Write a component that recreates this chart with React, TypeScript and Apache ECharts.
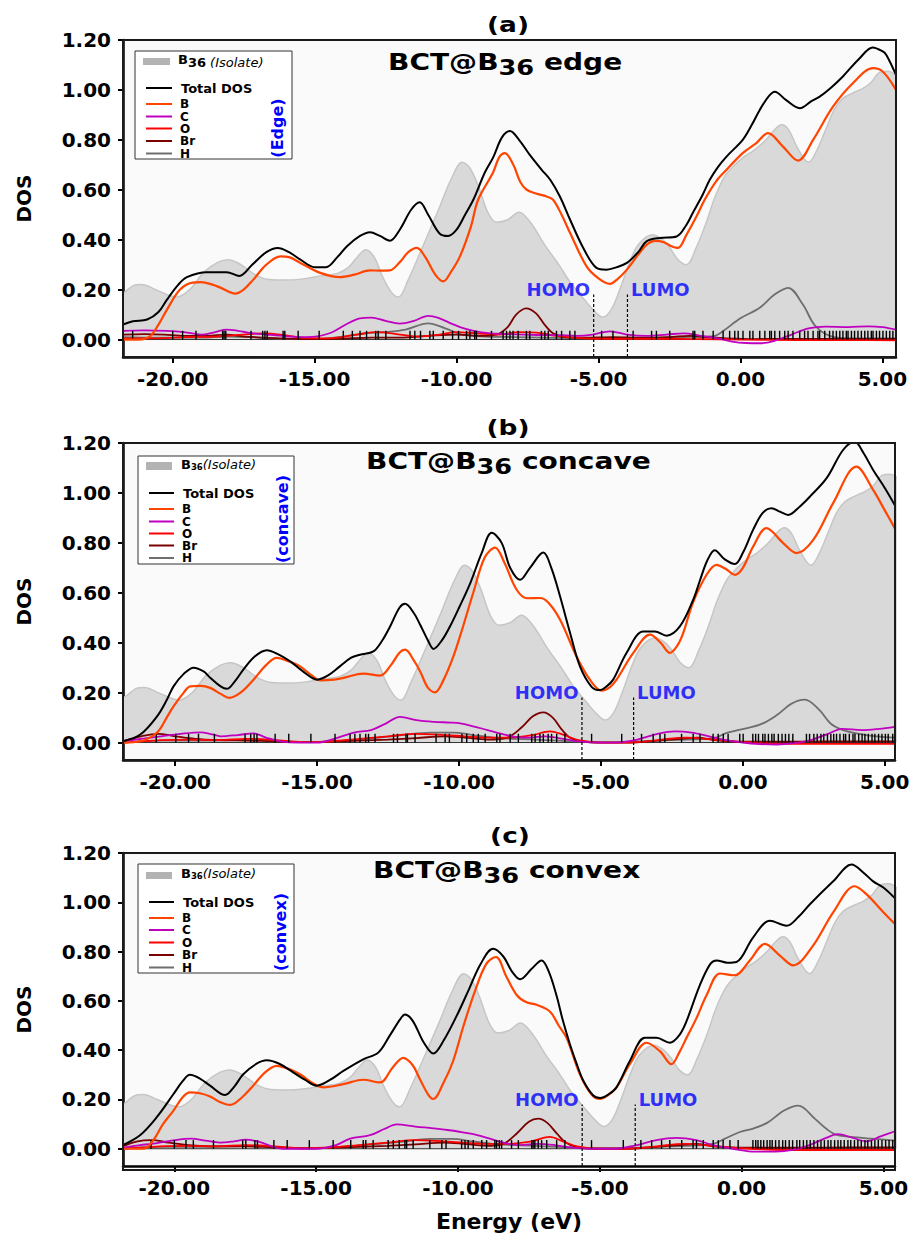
import React, { useEffect, useRef } from 'react';
import * as echarts from 'echarts';

const FONT = '"DejaVu Sans", "Noto Sans", sans-serif';

const X_TICKS = [-20, -15, -10, -5, 0, 5];
const Y_TICKS = [0, 0.2, 0.4, 0.6, 0.8, 1.0, 1.2];
const Y_MIN = -0.07;
const Y_MAX = 1.2;
const STICK_H = 0.035;
const GAP_TOP = 0.18;
const GAP_LABEL_Y = 0.2;

// isolated B36 DOS (grey area), same in all panels
const ISO = [[-22.0,0.17],[-21.75,0.185],[-21.4,0.215],[-21.1,0.22],[-20.6,0.2],[-20.2,0.18],[-19.85,0.17],[-19.4,0.2],[-18.9,0.27],[-18.4,0.31],[-18.05,0.32],[-17.6,0.3],[-17.1,0.26],[-16.6,0.24],[-16.0,0.238],[-15.4,0.243],[-14.8,0.255],[-14.2,0.265],[-13.8,0.29],[-13.5,0.33],[-13.2,0.36],[-12.9,0.33],[-12.6,0.25],[-12.3,0.19],[-12.05,0.17],[-11.7,0.24],[-11.2,0.37],[-10.6,0.53],[-10.2,0.64],[-9.8,0.71],[-9.55,0.69],[-9.25,0.62],[-8.9,0.51],[-8.6,0.47],[-8.2,0.48],[-7.8,0.51],[-7.4,0.47],[-6.9,0.38],[-6.4,0.3],[-6.0,0.23],[-5.5,0.16],[-5.15,0.115],[-4.85,0.09],[-4.55,0.12],[-4.25,0.2],[-3.9,0.31],[-3.6,0.38],[-3.1,0.42],[-2.8,0.405],[-2.5,0.37],[-2.2,0.32],[-1.9,0.3],[-1.55,0.37],[-1.2,0.47],[-0.9,0.57],[-0.55,0.655],[-0.2,0.7],[0.1,0.73],[0.5,0.76],[0.9,0.8],[1.2,0.84],[1.45,0.86],[1.7,0.84],[2.0,0.77],[2.4,0.71],[2.7,0.76],[3.0,0.84],[3.3,0.92],[3.6,0.965],[4.0,0.99],[4.3,1.005],[4.6,1.03],[4.9,1.07],[5.2,1.075],[5.5,1.055]];

// ---- panel (a) edge ----
const TOT_A = [[-21.75,0.06],[-21.4,0.073],[-20.9,0.08],[-20.5,0.11],[-20.2,0.16],[-19.8,0.22],[-19.5,0.25],[-18.8,0.27],[-18.1,0.27],[-17.65,0.255],[-17.2,0.3],[-16.7,0.35],[-16.3,0.367],[-15.9,0.35],[-15.5,0.32],[-15.0,0.29],[-14.6,0.29],[-14.2,0.33],[-13.85,0.375],[-13.4,0.415],[-13.05,0.43],[-12.7,0.415],[-12.35,0.396],[-12.0,0.44],[-11.6,0.52],[-11.3,0.55],[-11.0,0.5],[-10.6,0.425],[-10.3,0.415],[-10.0,0.44],[-9.7,0.5],[-9.41,0.56],[-9.0,0.67],[-8.71,0.73],[-8.4,0.81],[-8.12,0.835],[-7.8,0.8],[-7.42,0.74],[-7.0,0.68],[-6.7,0.64],[-6.36,0.573],[-6.0,0.48],[-5.55,0.37],[-5.07,0.287],[-4.72,0.28],[-4.35,0.29],[-4.0,0.307],[-3.6,0.35],[-3.31,0.393],[-2.84,0.407],[-2.25,0.413],[-1.9,0.46],[-1.68,0.507],[-1.33,0.58],[-1.08,0.64],[-0.8,0.69],[-0.49,0.733],[0.08,0.8],[0.4,0.86],[0.68,0.92],[1.0,0.975],[1.21,0.993],[1.6,0.96],[2.09,0.927],[2.5,0.955],[2.79,0.973],[3.2,1.01],[3.6,1.053],[4.2,1.127],[4.66,1.17],[5.0,1.155],[5.14,1.14],[5.48,1.06]];
const B_A = [[-21.75,0.0],[-21.2,0.0],[-20.8,0.013],[-20.5,0.06],[-20.2,0.12],[-19.74,0.2],[-19.3,0.228],[-19.0,0.23],[-18.6,0.22],[-18.3,0.207],[-17.8,0.184],[-17.5,0.2],[-17.16,0.24],[-16.7,0.3],[-16.2,0.333],[-15.9,0.33],[-15.5,0.307],[-14.8,0.267],[-14.1,0.25],[-13.6,0.26],[-13.05,0.277],[-12.7,0.276],[-12.35,0.277],[-12.0,0.31],[-11.7,0.35],[-11.4,0.367],[-11.1,0.33],[-10.75,0.26],[-10.47,0.233],[-10.2,0.27],[-9.88,0.333],[-9.5,0.45],[-9.24,0.56],[-8.71,0.67],[-8.5,0.73],[-8.3,0.747],[-8.0,0.7],[-7.75,0.63],[-7.53,0.6],[-7.2,0.585],[-6.83,0.573],[-6.6,0.56],[-6.3,0.5],[-6.0,0.427],[-5.42,0.293],[-5.0,0.245],[-4.6,0.223],[-4.3,0.245],[-4.0,0.28],[-3.6,0.34],[-3.3,0.38],[-3.0,0.395],[-2.7,0.39],[-2.45,0.375],[-2.2,0.367],[-1.9,0.42],[-1.55,0.493],[-1.26,0.56],[-0.85,0.635],[-0.49,0.68],[0.08,0.747],[0.56,0.787],[0.97,0.827],[1.5,0.773],[2.03,0.717],[2.56,0.8],[3.26,0.933],[3.96,1.027],[4.67,1.087],[5.02,1.073],[5.48,1.0]];
const C_A = [[-21.75,0.035],[-21.0,0.037],[-20.2,0.035],[-19.6,0.03],[-19.0,0.02],[-18.5,0.03],[-18.1,0.04],[-17.7,0.035],[-17.3,0.027],[-16.7,0.02],[-16.0,0.013],[-15.3,0.01],[-14.9,0.013],[-14.4,0.028],[-13.9,0.06],[-13.4,0.085],[-13.0,0.088],[-12.5,0.075],[-12.0,0.064],[-11.5,0.075],[-11.0,0.095],[-10.6,0.085],[-10.2,0.065],[-9.88,0.05],[-9.4,0.035],[-8.8,0.025],[-8.2,0.022],[-7.6,0.02],[-7.0,0.018],[-6.4,0.018],[-5.8,0.015],[-5.2,0.02],[-4.6,0.033],[-4.0,0.02],[-3.3,0.015],[-2.6,0.02],[-2.0,0.025],[-1.4,0.015],[-0.8,0.005],[-0.3,-0.008],[0.2,-0.014],[0.7,-0.015],[1.2,-0.005],[1.8,0.02],[2.4,0.045],[3.0,0.052],[3.8,0.05],[4.5,0.053],[5.0,0.05],[5.48,0.04]];
const O_A = [[-21.75,0.005],[-20.5,0.005],[-19.5,0.01],[-18.5,0.012],[-17.5,0.02],[-16.8,0.025],[-16.2,0.02],[-15.5,0.008],[-14.5,0.005],[-13.5,0.02],[-12.8,0.03],[-12.0,0.02],[-11.3,0.012],[-10.6,0.02],[-10.0,0.03],[-9.3,0.025],[-8.5,0.02],[-7.8,0.03],[-7.2,0.028],[-6.5,0.015],[-5.5,0.005],[-4.5,0.003],[-3.0,0.003],[-1.5,0.002],[0.0,0.0],[2.0,-0.002],[4.0,-0.002],[5.48,-0.003]];
const BR_A = [[-21.75,0.02],[-21.0,0.022],[-20.3,0.02],[-19.6,0.015],[-18.8,0.015],[-18.1,0.02],[-17.5,0.012],[-16.8,0.008],[-16.0,0.004],[-15.0,0.002],[-14.0,0.004],[-13.0,0.008],[-12.0,0.008],[-11.0,0.015],[-10.0,0.02],[-9.2,0.015],[-8.6,0.02],[-8.2,0.05],[-7.9,0.1],[-7.55,0.125],[-7.2,0.105],[-6.9,0.06],[-6.6,0.025],[-6.2,0.01],[-5.5,0.008],[-4.5,0.01],[-3.5,0.008],[-2.5,0.01],[-1.8,0.015],[-1.2,0.01],[-0.5,0.005],[0.5,0.002],[2.0,0.003],[3.5,0.003],[5.48,0.003]];
const H_A = [[-21.75,0.01],[-20.5,0.008],[-19.0,0.008],[-18.0,0.012],[-17.0,0.008],[-16.0,0.003],[-15.0,0.002],[-14.0,0.012],[-13.2,0.025],[-12.5,0.03],[-11.8,0.04],[-11.0,0.065],[-10.4,0.045],[-9.8,0.02],[-9.0,0.012],[-8.0,0.01],[-7.0,0.008],[-6.0,0.006],[-5.0,0.005],[-4.0,0.006],[-3.0,0.008],[-2.0,0.01],[-1.2,0.012],[-0.9,0.015],[-0.62,0.033],[0.0,0.085],[0.68,0.127],[1.2,0.18],[1.68,0.207],[2.2,0.14],[2.65,0.053],[3.3,0.01],[4.0,0.005],[5.48,0.005]];
const STICKS_A = [-21.41,-20.0,-19.65,-19.18,-18.24,-18.19,-18.13,-17.24,-16.83,-16.75,-16.67,-16.11,-16.05,-15.58,-14.84,-13.99,-13.67,-13.4,-13.17,-12.85,-12.76,-12.49,-11.64,-11.47,-11.27,-10.94,-10.82,-10.47,-10.14,-9.93,-9.65,-9.53,-9.36,-9.3,-8.77,-8.36,-8.24,-8.12,-8.01,-7.83,-7.54,-7.42,-7.01,-6.89,-6.77,-6.48,-6.3,-6.01,-5.83,-4.89,-4.49,-3.78,-3.13,-2.96,-2.49,-1.67,-1.61,-1.32,-0.96,-0.61,-0.38,-0.2,-0.08,0.09,0.33,0.44,0.68,0.86,1.03,1.09,1.21,1.38,1.56,1.68,1.85,2.09,2.26,2.38,2.56,2.73,2.79,2.97,3.14,3.26,3.38,3.5,3.61,3.73,3.79,3.91,4.02,4.14,4.26,4.38,4.49,4.61,4.67,4.79,4.9,5.02,5.14,5.26,5.37];

// ---- panel (b) concave ----
const TOT_B = [[-21.84,0.005],[-21.23,0.032],[-20.64,0.105],[-20.3,0.17],[-20.06,0.225],[-19.7,0.275],[-19.35,0.3],[-19.0,0.285],[-18.77,0.26],[-18.4,0.225],[-18.18,0.215],[-17.9,0.245],[-17.6,0.292],[-17.2,0.345],[-16.77,0.37],[-16.4,0.355],[-15.95,0.325],[-15.5,0.285],[-15.0,0.252],[-14.6,0.27],[-14.2,0.305],[-13.8,0.34],[-13.49,0.352],[-13.02,0.365],[-12.7,0.41],[-12.43,0.465],[-12.1,0.54],[-11.9,0.556],[-11.6,0.52],[-11.37,0.472],[-11.1,0.41],[-10.9,0.375],[-10.6,0.41],[-10.32,0.465],[-10.0,0.54],[-9.6,0.64],[-9.2,0.76],[-8.85,0.84],[-8.5,0.8],[-8.2,0.7],[-7.85,0.652],[-7.5,0.7],[-7.03,0.761],[-6.75,0.7],[-6.44,0.585],[-6.09,0.44],[-5.74,0.305],[-5.33,0.223],[-5.04,0.21],[-4.8,0.225],[-4.57,0.252],[-4.1,0.359],[-3.51,0.445],[-3.1,0.445],[-2.69,0.428],[-2.22,0.465],[-1.75,0.572],[-1.51,0.65],[-1.25,0.73],[-0.99,0.77],[-0.65,0.735],[-0.28,0.715],[0.0,0.76],[0.36,0.852],[0.7,0.92],[1.01,0.939],[1.3,0.925],[1.6,0.912],[2.0,0.945],[2.36,0.985],[2.95,1.059],[3.53,1.172],[3.94,1.205],[4.25,1.16],[4.59,1.092],[5.0,1.02],[5.35,0.952]];
const B_B = [[-21.84,0.0],[-21.23,0.005],[-20.64,0.04],[-20.3,0.1],[-20.06,0.145],[-19.7,0.2],[-19.47,0.225],[-19.1,0.227],[-18.77,0.219],[-18.4,0.195],[-18.1,0.179],[-17.7,0.2],[-17.24,0.252],[-16.8,0.31],[-16.42,0.339],[-16.0,0.325],[-15.6,0.305],[-15.2,0.27],[-14.89,0.249],[-14.4,0.252],[-14.07,0.259],[-13.37,0.276],[-12.78,0.268],[-12.4,0.31],[-12.1,0.36],[-11.9,0.372],[-11.6,0.33],[-11.37,0.285],[-11.1,0.22],[-10.85,0.201],[-10.55,0.25],[-10.2,0.345],[-9.9,0.45],[-9.5,0.6],[-9.1,0.74],[-8.73,0.781],[-8.4,0.72],[-7.97,0.612],[-7.6,0.578],[-7.15,0.579],[-6.85,0.56],[-6.44,0.492],[-5.86,0.345],[-5.39,0.252],[-4.98,0.208],[-4.7,0.22],[-4.45,0.252],[-3.86,0.359],[-3.27,0.432],[-2.9,0.4],[-2.57,0.359],[-2.3,0.39],[-2.1,0.439],[-1.76,0.56],[-1.28,0.672],[-0.93,0.712],[-0.6,0.695],[-0.28,0.672],[0.0,0.7],[0.36,0.785],[0.83,0.859],[1.42,0.799],[1.89,0.759],[2.48,0.812],[3.18,0.959],[4.0,1.105],[4.59,1.012],[5.0,0.93],[5.35,0.859]];
const C_B = [[-21.84,0.005],[-21.2,0.015],[-20.5,0.025],[-19.8,0.035],[-19.1,0.041],[-18.7,0.033],[-18.4,0.025],[-17.8,0.03],[-17.24,0.037],[-16.8,0.02],[-16.3,0.005],[-15.6,0.0],[-15.0,0.0],[-14.4,0.015],[-13.7,0.04],[-13.1,0.05],[-12.6,0.075],[-12.08,0.103],[-11.5,0.09],[-10.9,0.083],[-10.3,0.08],[-9.96,0.077],[-9.5,0.065],[-9.0,0.05],[-8.5,0.035],[-8.0,0.022],[-7.5,0.02],[-7.0,0.025],[-6.5,0.018],[-6.0,0.008],[-5.5,0.002],[-4.5,0.0],[-3.8,0.01],[-3.0,0.035],[-2.4,0.045],[-1.8,0.04],[-1.2,0.025],[-0.6,0.01],[0.0,0.0],[0.6,-0.006],[1.2,-0.008],[1.8,-0.002],[2.4,0.01],[3.0,0.035],[3.5,0.055],[4.2,0.05],[4.8,0.055],[5.35,0.063]];
const O_B = [[-21.84,0.0],[-20.5,0.01],[-19.5,0.012],[-18.5,0.01],[-17.5,0.015],[-16.5,0.01],[-15.5,0.002],[-14.5,0.005],[-13.5,0.015],[-12.5,0.025],[-11.5,0.035],[-10.5,0.03],[-9.8,0.025],[-9.0,0.02],[-8.2,0.02],[-7.4,0.03],[-6.8,0.045],[-6.3,0.03],[-5.8,0.01],[-5.0,0.0],[-4.0,0.0],[-3.0,0.01],[-2.0,0.02],[-1.0,0.012],[0.0,0.002],[1.5,-0.005],[3.0,-0.005],[5.35,-0.005]];
const BR_B = [[-21.84,0.005],[-21.2,0.025],[-20.6,0.035],[-20.0,0.025],[-19.3,0.015],[-18.5,0.01],[-17.5,0.008],[-16.5,0.005],[-15.5,0.002],[-14.5,0.004],[-13.5,0.008],[-12.5,0.012],[-11.5,0.018],[-10.5,0.025],[-9.8,0.02],[-9.0,0.012],[-8.3,0.02],[-7.8,0.06],[-7.4,0.105],[-7.03,0.121],[-6.7,0.1],[-6.4,0.055],[-6.1,0.02],[-5.7,0.005],[-5.0,0.0],[-4.0,0.0],[-3.0,0.008],[-2.2,0.015],[-1.6,0.02],[-1.0,0.01],[0.0,0.004],[2.0,0.004],[4.0,0.005],[5.35,0.005]];
const H_B = [[-21.84,0.0],[-20.5,0.008],[-19.0,0.008],[-18.0,0.01],[-17.0,0.012],[-16.0,0.004],[-15.0,0.002],[-14.0,0.008],[-13.0,0.018],[-12.0,0.03],[-11.0,0.04],[-10.2,0.04],[-9.5,0.03],[-8.8,0.02],[-8.0,0.015],[-7.0,0.01],[-6.0,0.005],[-5.0,0.002],[-4.0,0.003],[-3.0,0.008],[-2.0,0.012],[-1.0,0.018],[-0.57,0.039],[0.6,0.072],[1.2,0.11],[1.7,0.155],[2.18,0.172],[2.7,0.13],[3.1,0.075],[3.53,0.05],[4.1,0.035],[4.7,0.025],[5.35,0.02]];
const STICKS_B = [-20.67,-19.98,-19.53,-19.18,-18.62,-17.54,-17.34,-17.22,-17.12,-16.48,-16.0,-15.22,-14.37,-13.84,-13.67,-13.49,-13.29,-13.19,-12.96,-12.31,-12.17,-11.87,-11.82,-11.55,-10.81,-10.49,-10.34,-9.9,-9.73,-9.5,-9.32,-9.08,-8.67,-8.56,-8.2,-7.91,-7.44,-7.32,-7.15,-7.03,-6.86,-6.74,-6.56,-6.27,-5.33,-4.27,-3.57,-3.16,-2.92,-2.75,-2.16,-1.75,-1.51,-1.05,-0.87,-0.69,-0.52,-0.11,0.01,0.35,0.45,0.55,0.7,0.78,0.9,1.02,1.1,1.25,1.38,1.5,1.62,1.76,2.24,2.35,2.5,2.62,2.75,2.85,2.98,3.1,3.2,3.3,3.42,3.55,3.62,3.75,3.88,3.95,4.08,4.2,4.3,4.42,4.55,4.65,4.78,4.9,5.02,5.12,5.28];

// ---- panel (c) convex ----
const TOT_C = [[-21.82,0.015],[-21.21,0.055],[-20.62,0.128],[-20.03,0.222],[-19.7,0.275],[-19.45,0.3],[-19.1,0.285],[-18.74,0.256],[-18.21,0.218],[-17.9,0.25],[-17.57,0.302],[-17.1,0.345],[-16.74,0.359],[-16.3,0.345],[-15.8,0.309],[-15.4,0.28],[-14.98,0.256],[-14.5,0.28],[-14.04,0.316],[-13.34,0.363],[-12.81,0.39],[-12.4,0.46],[-12.04,0.525],[-11.87,0.545],[-11.6,0.52],[-11.2,0.43],[-10.87,0.386],[-10.5,0.44],[-10.0,0.55],[-9.6,0.65],[-9.2,0.75],[-8.76,0.811],[-8.4,0.78],[-8.1,0.72],[-7.81,0.688],[-7.4,0.73],[-7.05,0.764],[-6.8,0.72],[-6.52,0.62],[-6.3,0.52],[-6.05,0.423],[-5.8,0.34],[-5.58,0.276],[-5.23,0.216],[-4.99,0.206],[-4.7,0.22],[-4.41,0.249],[-3.94,0.356],[-3.41,0.45],[-3.0,0.45],[-2.53,0.43],[-2.2,0.46],[-1.94,0.518],[-1.47,0.664],[-1.1,0.75],[-0.88,0.764],[-0.5,0.755],[-0.18,0.758],[0.41,0.858],[1.0,0.925],[1.59,0.905],[2.0,0.94],[2.41,0.992],[3.23,1.085],[3.88,1.153],[4.3,1.12],[4.64,1.085],[5.0,1.06],[5.41,1.016]];
const B_C = [[-21.82,0.0],[-21.09,0.0],[-20.74,0.035],[-20.4,0.1],[-20.03,0.155],[-19.7,0.21],[-19.45,0.229],[-19.1,0.225],[-18.74,0.212],[-18.4,0.19],[-18.03,0.178],[-17.6,0.21],[-17.22,0.256],[-16.8,0.31],[-16.39,0.336],[-16.0,0.325],[-15.57,0.302],[-15.1,0.265],[-14.75,0.249],[-14.04,0.262],[-13.34,0.28],[-12.75,0.269],[-12.3,0.33],[-11.93,0.369],[-11.6,0.34],[-11.34,0.282],[-11.05,0.22],[-10.87,0.202],[-10.5,0.27],[-10.17,0.356],[-9.8,0.5],[-9.4,0.64],[-9.0,0.75],[-8.66,0.778],[-8.3,0.7],[-7.93,0.624],[-7.6,0.595],[-7.23,0.584],[-6.76,0.557],[-6.45,0.5],[-6.17,0.45],[-5.7,0.302],[-5.29,0.22],[-4.99,0.202],[-4.7,0.218],[-4.41,0.249],[-3.94,0.343],[-3.35,0.43],[-2.88,0.396],[-2.47,0.343],[-2.2,0.39],[-1.94,0.45],[-1.59,0.53],[-1.23,0.624],[-0.76,0.711],[-0.24,0.704],[0.29,0.764],[0.82,0.831],[1.35,0.784],[1.82,0.744],[2.52,0.824],[3.23,0.959],[3.99,1.065],[4.41,1.032],[5.0,0.96],[5.41,0.912]];
const C_C = [[-21.82,0.005],[-21.2,0.015],[-20.8,0.02],[-20.1,0.033],[-19.4,0.041],[-18.9,0.033],[-18.4,0.025],[-17.9,0.03],[-17.5,0.037],[-17.0,0.028],[-16.2,0.0],[-15.0,0.0],[-14.3,0.015],[-13.8,0.041],[-13.1,0.055],[-12.6,0.08],[-12.16,0.099],[-11.5,0.09],[-10.87,0.083],[-10.3,0.075],[-10.0,0.07],[-9.5,0.06],[-9.0,0.045],[-8.4,0.025],[-7.8,0.015],[-7.2,0.02],[-6.6,0.015],[-6.0,0.005],[-5.4,0.0],[-4.5,0.0],[-3.8,0.012],[-3.0,0.035],[-2.3,0.044],[-1.6,0.035],[-1.0,0.015],[-0.3,0.0],[0.5,-0.012],[1.2,-0.012],[1.8,-0.005],[2.4,0.015],[3.0,0.045],[3.4,0.059],[3.9,0.045],[4.4,0.03],[4.9,0.05],[5.41,0.071]];
const O_C = [[-21.82,0.0],[-20.5,0.01],[-19.5,0.012],[-18.5,0.01],[-17.5,0.015],[-16.5,0.01],[-15.5,0.002],[-14.5,0.005],[-13.5,0.015],[-12.5,0.025],[-11.5,0.035],[-10.5,0.03],[-9.8,0.025],[-9.0,0.02],[-8.2,0.02],[-7.4,0.03],[-6.76,0.048],[-6.3,0.03],[-5.8,0.01],[-5.0,0.0],[-4.0,0.0],[-3.0,0.01],[-2.0,0.02],[-1.0,0.012],[0.0,0.002],[1.5,-0.005],[3.0,-0.005],[5.41,-0.005]];
const BR_C = [[-21.82,0.01],[-21.3,0.03],[-20.8,0.035],[-20.2,0.025],[-19.5,0.015],[-18.5,0.01],[-17.5,0.01],[-16.5,0.005],[-15.5,0.002],[-14.5,0.004],[-13.5,0.008],[-12.5,0.012],[-11.5,0.018],[-10.5,0.025],[-9.8,0.02],[-9.0,0.012],[-8.4,0.02],[-7.9,0.065],[-7.5,0.11],[-7.17,0.122],[-6.85,0.105],[-6.5,0.06],[-6.2,0.025],[-5.8,0.006],[-5.0,0.0],[-4.0,0.0],[-3.0,0.008],[-2.2,0.015],[-1.6,0.02],[-1.0,0.01],[0.0,0.004],[2.0,0.004],[4.0,0.005],[5.41,0.005]];
const H_C = [[-21.82,0.0],[-20.5,0.008],[-19.0,0.008],[-18.0,0.01],[-17.0,0.012],[-16.0,0.004],[-15.0,0.002],[-14.0,0.008],[-13.0,0.018],[-12.0,0.028],[-11.0,0.04],[-10.2,0.04],[-9.5,0.03],[-8.8,0.02],[-8.0,0.015],[-7.0,0.01],[-6.0,0.005],[-5.0,0.002],[-4.0,0.003],[-3.0,0.008],[-2.0,0.012],[-1.0,0.02],[-0.6,0.04],[-0.06,0.068],[0.41,0.082],[0.9,0.105],[1.5,0.155],[2.0,0.175],[2.6,0.12],[3.0,0.08],[3.35,0.056],[4.17,0.045],[5.41,0.033]];
const STICKS_C = [-20.82,-20.0,-19.59,-19.33,-18.62,-17.59,-17.48,-17.16,-17.07,-16.49,-16.02,-15.24,-14.4,-13.78,-13.34,-13.25,-12.99,-12.46,-12.28,-12.07,-11.87,-11.81,-11.58,-10.99,-10.57,-10.42,-9.87,-9.75,-9.64,-9.46,-9.16,-8.99,-8.7,-8.64,-8.54,-8.46,-8.11,-7.87,-7.4,-7.35,-7.29,-7.17,-7.05,-6.87,-6.52,-6.23,-5.29,-4.17,-3.55,-3.17,-2.82,-2.53,-2.11,-1.71,-1.59,-1.35,-1.0,-0.82,-0.65,-0.41,-0.12,0.4,0.5,0.58,0.68,0.78,0.9,1.0,1.08,1.2,1.32,1.45,1.55,1.68,1.8,1.95,2.05,2.18,2.3,2.42,2.55,2.68,2.8,2.92,3.05,3.15,3.28,3.4,3.5,3.62,3.75,3.85,3.98,4.1,4.22,4.35,4.45,4.58,4.7,4.82,4.95,5.08,5.2,5.33];

const LEGEND_LABELS = ['Total DOS', 'B', 'C', 'O', 'Br', 'H'];
const SERIES_COLORS = ['#000000', '#ff4500', '#c000c0', '#ff0000', '#7a0000', '#6e6e6e'];
const PANEL_TAGS = ['(a)', '(b)', '(c)'];
const PANEL_NAMES = [' edge', ' concave', ' convex'];
const SIDE_LABELS = ['(Edge)', '(concave)', '(convex)'];

const PANELS = [
  {
    top: 40, bottom: 357, left: 123, right: 896, xMin: -21.75, xMax: 5.48, homo: -5.17, lumo: -3.98,
    series: [TOT_A, B_A, C_A, O_A, BR_A, H_A], sticks: STICKS_A,
    tag: { x: 508, y: 24 }, title: { x: 388, y: 50 },
    legend: { x: 135, y: 51, w: 157, h: 108, sw: { x: 143, y: 58, w: 27, h: 7 }, isoX: 178, isoY: 53, lx1: 146, lx2: 172, lab: 180, ys: [88, 104, 116.5, 128.5, 141, 153.5] },
    side: { x: 277, y: 128 }, isoStyle: 'a',
  },
  {
    top: 443, bottom: 760, left: 123, right: 895, xMin: -21.84, xMax: 5.36, homo: -5.67, lumo: -3.85,
    series: [TOT_B, B_B, C_B, O_B, BR_B, H_B], sticks: STICKS_B,
    tag: { x: 508, y: 427 }, title: { x: 366, y: 449 },
    legend: { x: 138, y: 456, w: 156, h: 108, sw: { x: 146, y: 462, w: 26, h: 8 }, isoX: 181, isoY: 458, lx1: 149, lx2: 174, lab: 182, ys: [493, 509, 521.5, 533.5, 545.5, 558] },
    side: { x: 282, y: 519 }, isoStyle: 'b',
  },
  {
    top: 853, bottom: 1170, left: 123, right: 895, xMin: -21.81, xMax: 5.41, homo: -5.62, lumo: -3.75,
    series: [TOT_C, B_C, C_C, O_C, BR_C, H_C], sticks: STICKS_C,
    tag: { x: 510, y: 835 }, title: { x: 373, y: 858 },
    legend: { x: 138, y: 864, w: 156, h: 109, sw: { x: 146, y: 872, w: 26, h: 7 }, isoX: 181, isoY: 867, lx1: 149, lx2: 174, lab: 182, ys: [902, 918, 930, 942.5, 955, 967.5] },
    side: { x: 280.5, y: 932 }, isoStyle: 'b',
  },
];

function txt(x: number, y: number, text: string, font: string, fill: string, align = 'left', valign = 'middle', extra: any = {}) {
  return {
    type: 'text', x, y, z: 120, silent: true, ...extra,
    style: { text, font, fill, align, verticalAlign: valign, textAlign: align, textVerticalAlign: valign },
  };
}

function buildGraphics() {
  const g: any[] = [];
  PANELS.forEach((p, i) => {
    g.push({ type: 'rect', z: 100, silent: true, shape: { x: p.left, y: p.top, width: p.right - p.left, height: p.bottom - p.top }, style: { fill: 'none', stroke: '#1a1a1a', lineWidth: 2 } });
    g.push(txt(p.tag.x, p.tag.y, PANEL_TAGS[i], `bold 22px ${FONT}`, '#000', 'center', 'middle', { scaleX: 1.2 }));
    g.push({
      type: 'text', x: p.title.x, y: p.title.y, scaleX: 1.22, z: 120, silent: true,
      style: {
        text: `{m|BCT@B}{s|36}{m|${PANEL_NAMES[i]}}`, align: 'left', verticalAlign: 'top', textAlign: 'left', textVerticalAlign: 'top',
        rich: {
          m: { fontFamily: FONT, fontWeight: 'bold', fontSize: 23, fill: '#000', color: '#000', verticalAlign: 'top', lineHeight: 28 },
          s: { fontFamily: FONT, fontWeight: 'bold', fontSize: 21, fill: '#000', color: '#000', verticalAlign: 'top', lineHeight: 28, padding: [7, 0, 0, 0] },
        },
      },
    });
    const L = p.legend;
    g.push({ type: 'rect', z: 110, silent: true, shape: { x: L.x, y: L.y, width: L.w, height: L.h }, style: { fill: '#ffffff', stroke: '#333', lineWidth: 1 } });
    g.push({ type: 'rect', z: 115, silent: true, shape: { x: L.sw.x, y: L.sw.y, width: L.sw.w, height: L.sw.h }, style: { fill: '#b3b3b3' } });
    const isoRich = p.isoStyle === 'a'
      ? {
          text: '{b|B}{s|36}{i| (Isolate)}',
          rich: {
            b: { fontFamily: FONT, fontWeight: 'bold', fontSize: 13, fill: '#000', verticalAlign: 'top', lineHeight: 16 },
            s: { fontFamily: FONT, fontWeight: 'bold', fontSize: 13, fill: '#000', verticalAlign: 'top', lineHeight: 16, padding: [3, 0, 0, 0] },
            i: { fontFamily: FONT, fontStyle: 'italic', fontSize: 13, fill: '#000', verticalAlign: 'top', lineHeight: 16, padding: [3, 0, 0, 0] },
          },
        }
      : {
          text: '{b|B}{s|36}{i|(Isolate)}',
          rich: {
            b: { fontFamily: FONT, fontWeight: 'bold', fontSize: 13, fill: '#000', verticalAlign: 'top', lineHeight: 16 },
            s: { fontFamily: FONT, fontWeight: 'bold', fontSize: 8.5, fill: '#000', verticalAlign: 'top', lineHeight: 16, padding: [4, 0, 0, 0] },
            i: { fontFamily: FONT, fontStyle: 'italic', fontSize: 13, fill: '#000', verticalAlign: 'top', lineHeight: 16 },
          },
        };
    g.push({ type: 'text', x: L.isoX, y: L.isoY, z: 120, silent: true, style: { ...isoRich, align: 'left', verticalAlign: 'top', textAlign: 'left', textVerticalAlign: 'top' } });
    LEGEND_LABELS.forEach((lab, k) => {
      g.push({ type: 'line', z: 115, silent: true, shape: { x1: L.lx1, y1: L.ys[k], x2: L.lx2, y2: L.ys[k] }, style: { stroke: SERIES_COLORS[k], lineWidth: 2 } });
      g.push(txt(k === 0 ? L.lab + 1 : L.lab, L.ys[k], lab, `bold ${k === 0 ? 13 : 12}px ${FONT}`, '#000'));
    });
    g.push(txt(p.side.x, p.side.y, SIDE_LABELS[i], `bold 16px ${FONT}`, '#0000ff', 'center', 'middle', { rotation: Math.PI / 2 }));
  });
  return g;
}

function buildOption() {
  const grid: any[] = [], xAxis: any[] = [], yAxis: any[] = [], series: any[] = [];
  const tickFont = { fontFamily: FONT, fontWeight: 'bold', fontSize: 20, color: '#000' };
  PANELS.forEach((p, i) => {
    grid.push({ left: p.left, top: p.top, width: p.right - p.left, height: p.bottom - p.top, show: true, backgroundColor: '#fafafa', borderWidth: 0 });
    xAxis.push({
      type: 'value', gridIndex: i, min: p.xMin, max: p.xMax, position: 'bottom',
      axisLine: { show: true, onZero: false, lineStyle: { color: '#000', width: 2.5 } },
      axisTick: { show: true, length: 6, customValues: X_TICKS, lineStyle: { color: '#000', width: 2 } },
      axisLabel: { customValues: X_TICKS, formatter: (v: number) => v.toFixed(2), margin: 12, ...tickFont },
      splitLine: { show: false },
      name: i === 2 ? 'Energy (eV)' : '', nameLocation: 'middle', nameGap: 44,
      nameTextStyle: { fontFamily: FONT, fontWeight: 'bold', fontSize: 22, color: '#000' },
    });
    yAxis.push({
      type: 'value', gridIndex: i, min: Y_MIN, max: Y_MAX, position: 'left',
      axisLine: { show: true, onZero: false, lineStyle: { color: '#000', width: 2.5 } },
      axisTick: { show: true, length: 5, customValues: Y_TICKS, lineStyle: { color: '#000', width: 2 } },
      axisLabel: { customValues: Y_TICKS, formatter: (v: number) => v.toFixed(2), margin: 12, ...tickFont },
      splitLine: { show: false },
      name: 'DOS', nameLocation: 'middle', nameGap: 89,
      nameTextStyle: { fontFamily: FONT, fontWeight: 'bold', fontSize: 20, color: '#000' },
    });
    const base = { xAxisIndex: i, yAxisIndex: i, symbol: 'none', silent: true };
    series.push({ ...base, type: 'line', name: 'iso', data: ISO, smooth: 0.35, z: 1, lineStyle: { color: '#c6c6c6', width: 1.5 }, areaStyle: { color: '#d9d9d9', opacity: 1 } });
    series.push({ ...base, type: 'line', data: [[p.xMin, 0], [p.xMax, 0]], z: 2, lineStyle: { color: '#333', width: 1 } });
    [5, 4, 3, 2].forEach((k) => {
      series.push({ ...base, type: 'line', data: p.series[k], smooth: 0.35, z: 3, lineStyle: { color: SERIES_COLORS[k], width: 1.8 } });
    });
    series.push({
      type: 'custom', xAxisIndex: i, yAxisIndex: i, silent: true, z: 4,
      data: p.sticks.map((e) => [e, STICK_H]),
      renderItem: (_params: any, api: any) => {
        const p0 = api.coord([api.value(0), 0]);
        const p1 = api.coord([api.value(0), api.value(1)]);
        return { type: 'line', shape: { x1: p0[0], y1: p0[1], x2: p1[0], y2: p1[1] }, style: { stroke: '#000', lineWidth: 1.4 } };
      },
    });
    series.push({ ...base, type: 'line', data: p.series[1], smooth: 0.35, z: 5, lineStyle: { color: SERIES_COLORS[1], width: 2.2 } });
    series.push({ ...base, type: 'line', data: p.series[0], smooth: 0.35, z: 6, lineStyle: { color: SERIES_COLORS[0], width: 2 } });
    [p.homo, p.lumo].forEach((e) => {
      series.push({ ...base, type: 'line', data: [[e, Y_MIN], [e, GAP_TOP]], z: 7, lineStyle: { color: '#000', width: 1.2, type: [3, 2] } });
    });
    const lab = { color: '#0000ff', fontWeight: 'bold', fontSize: 18, fontFamily: FONT, distance: 3 };
    series.push({
      type: 'scatter', xAxisIndex: i, yAxisIndex: i, silent: true, z: 8, symbolSize: 1,
      itemStyle: { color: 'rgba(0,0,0,0)' },
      data: [
        { value: [p.homo, GAP_LABEL_Y], label: { show: true, position: 'left', formatter: 'HOMO', ...lab } },
        { value: [p.lumo, GAP_LABEL_Y], label: { show: true, position: 'right', formatter: 'LUMO', ...lab } },
      ],
    });
  });
  return { animation: false, backgroundColor: '#ffffff', grid, xAxis, yAxis, series, graphic: { elements: buildGraphics() } };
}

export default function App() {
  const ref = useRef<HTMLDivElement>(null);
  useEffect(() => {
    document.body.style.margin = '0';
    if (!ref.current) return;
    const chart = echarts.init(ref.current, undefined, { renderer: 'svg' });
    chart.setOption(buildOption() as any);
    return () => chart.dispose();
  }, []);
  return <div ref={ref} style={{ width: 923, height: 1233 }} />;
}
